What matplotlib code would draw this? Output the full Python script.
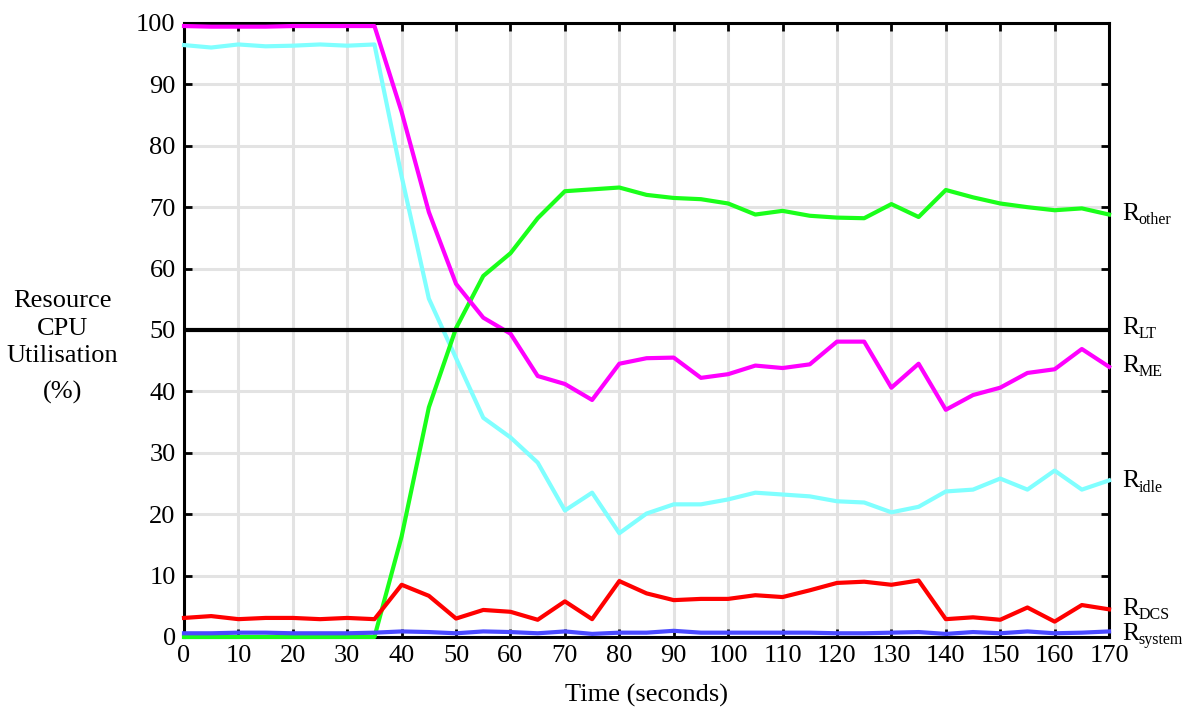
import matplotlib
matplotlib.use("Agg")
import matplotlib.pyplot as plt
import numpy as np

plt.rcParams['font.family'] = ['Liberation Serif', 'DejaVu Serif']

time = list(range(0, 175, 5))

r_me = [99.5, 99.4, 99.4, 99.4, 99.5, 99.5, 99.5, 99.5, 85.5, 69.2, 57.5, 52.0, 49.4,
        42.5, 41.2, 38.6, 44.5, 45.4, 45.5, 42.2, 42.8, 44.2, 43.8, 44.4, 48.1, 48.1,
        40.6, 44.5, 37.0, 39.4, 40.6, 43.0, 43.6, 46.9, 44.0]
r_idle = [96.4, 96.0, 96.5, 96.2, 96.3, 96.5, 96.3, 96.5, 75.0, 55.1, 45.4, 35.7, 32.5,
          28.4, 20.6, 23.5, 16.9, 20.1, 21.6, 21.6, 22.4, 23.5, 23.2, 22.9, 22.1, 21.9,
          20.3, 21.2, 23.7, 24.0, 25.8, 24.0, 27.1, 24.0, 25.5]
r_other = [0, 0, 0, 0, 0, 0, 0, 0, 16.4, 37.4, 50.3, 58.8, 62.5, 68.2, 72.6, 72.9, 73.2,
           72.0, 71.5, 71.3, 70.6, 68.8, 69.4, 68.6, 68.3, 68.2, 70.5, 68.4, 72.8, 71.6,
           70.6, 70.0, 69.5, 69.8, 68.8]
r_dcs = [3.1, 3.4, 2.9, 3.1, 3.1, 2.9, 3.1, 2.9, 8.5, 6.7, 3.0, 4.4, 4.1, 2.8, 5.8, 2.9,
         9.1, 7.1, 6.0, 6.2, 6.2, 6.8, 6.5, 7.6, 8.8, 9.0, 8.5, 9.2, 2.9, 3.2, 2.8, 4.8,
         2.5, 5.2, 4.5]
r_system = [0.6, 0.6, 0.7, 0.7, 0.6, 0.6, 0.6, 0.7, 0.9, 0.8, 0.6, 0.9, 0.8, 0.6, 0.9,
            0.5, 0.7, 0.7, 1.0, 0.7, 0.7, 0.7, 0.7, 0.7, 0.6, 0.6, 0.7, 0.8, 0.5, 0.8,
            0.6, 0.9, 0.6, 0.7, 0.9]
r_lt = 50

x_ticks = list(range(0, 171, 10))
y_ticks = list(range(0, 101, 10))

fig = plt.figure(figsize=(11.84, 7.09), dpi=100)
ax = fig.add_axes([0.1554, 0.1016, 0.9367 - 0.1554, 0.9676 - 0.1016])

ax.grid(True, color='#e3e3e3', linewidth=2.2, zorder=0)
ax.set_axisbelow(True)

lw = 3.0
ax.plot(time, r_idle, color='#80ffff', lw=lw, zorder=3, clip_on=False)
ax.plot(time, r_other, color='#1aff1a', lw=lw, zorder=3, clip_on=False)
ax.plot(time, r_me, color='#ff00ff', lw=lw, zorder=4, clip_on=False)
ax.axhline(r_lt, color='black', lw=lw, zorder=5)
ax.plot(time, r_dcs, color='#ff0000', lw=lw, zorder=4, clip_on=False)
ax.plot(time, r_system, color='#4a4aff', lw=lw, zorder=5, clip_on=False)

ax.set_xlim(0, 170)
ax.set_ylim(0, 100)
ax.set_xticks(x_ticks)
ax.set_yticks(y_ticks)
ax.tick_params(direction='in', length=6, width=2, labelsize=19, top=True, right=True,
               labeltop=False, labelright=False, pad=6)
for s in ax.spines.values():
    s.set_linewidth(2.2)

ax.set_xlabel('Time (seconds)', fontsize=19, labelpad=12)

fig.text(0.053, 0.575, 'Resource', ha='center', va='center', fontsize=19)
fig.text(0.053, 0.536, 'CPU', ha='center', va='center', fontsize=19)
fig.text(0.053, 0.498, 'Utilisation', ha='center', va='center', fontsize=19)
fig.text(0.053, 0.446, '(%)', ha='center', va='center', fontsize=19)

labels = [('other', r_other[-1], -4.0),
          ('LT', r_lt, -3.0),
          ('ME', r_me[-1], -3.8),
          ('idle', r_idle[-1], -5.0),
          ('DCS', r_dcs[-1], -3.8),
          ('system', r_system[-1], -6.2)]
for sub, val, dy in labels:
    ax.annotate('R', xy=(170, val), xytext=(9.5, dy), textcoords='offset points',
                ha='left', va='baseline', fontsize=18.5, annotation_clip=False)
    ax.annotate(sub, xy=(170, val), xytext=(21.0, dy - 3.0), textcoords='offset points',
                ha='left', va='baseline', fontsize=11.5, annotation_clip=False)

fig.savefig('out.png', dpi=100)
